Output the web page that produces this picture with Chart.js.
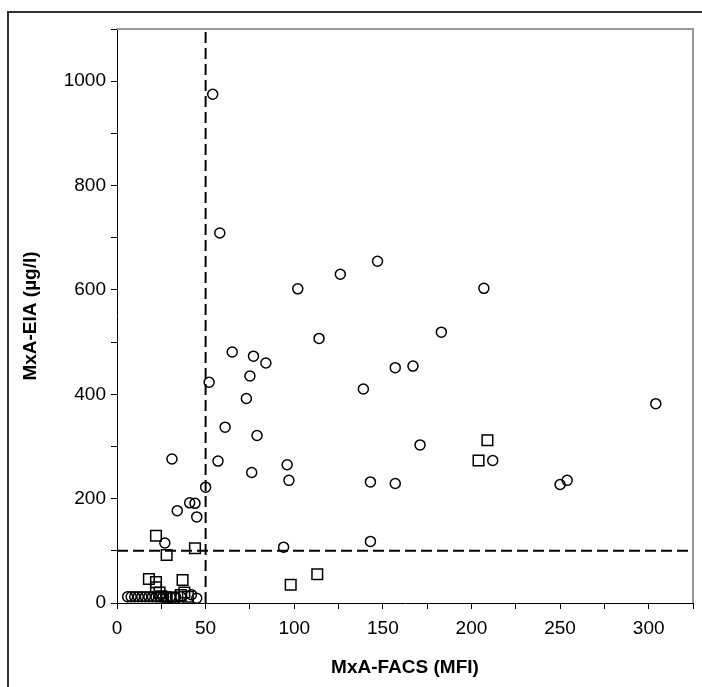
<!DOCTYPE html>
<html>
<head>
<meta charset="utf-8">
<script src="https://cdn.jsdelivr.net/npm/chart.js@4/dist/chart.umd.min.js"></script>
<style>
html,body{margin:0;padding:0;background:#fff;}
#wrap{width:702px;height:687px;position:relative;}
</style>
</head>
<body>
<div id="wrap"><canvas id="c" width="702" height="687"></canvas></div>
<script>
// ---- data ----
const circleX = [54,58,102,126,147,207,183,114,65,77,84,157,167,139,75,52,73,304,61,79,171,31,57,212,96,76,97,143,157,250,254,50,41,44,34,45,27,143,94,
  6,8,10,12,14,16,18,20,22,24,26,28,30,33,36,42,45];
const circleY = [975,709,602,630,655,603,519,507,481,473,460,451,454,410,435,423,392,382,337,321,303,276,272,273,265,250,235,232,229,227,235,222,192,191,177,165,115,118,107,
  12,12,12,12,12,12,12,12,12,12,12,12,12,12,12,16,9];
const squareX = [22,28,44,18,22,22,24,25,28,32,37,36,38,40,98,113,204,209];
const squareY = [129,92,105,46,40,30,20,13,10,10,44,15,20,12,35,55,273,312];
const cutoffX = 50;     // MxA-FACS cut-off (MFI)
const cutoffY = 100;    // MxA-EIA cut-off (µg/l)
const xRange = [0, 325];
const yRange = [0, 1100];
const xTitle = 'MxA-FACS (MFI)';
const yTitle = 'MxA-EIA (µg/l)';

const toPts = (xs, ys) => xs.map((x, i) => ({x, y: ys[i]}));

const framePlugin = {
  id: 'frames',
  afterDraw(chart) {
    const {ctx, chartArea: a} = chart;
    ctx.save();
    ctx.strokeStyle = '#333';
    ctx.lineWidth = 2;
    ctx.strokeRect(8, 12, 1000, 1000);
    ctx.strokeStyle = '#9a9a9a';
    ctx.lineWidth = 2;
    ctx.beginPath();
    ctx.moveTo(a.left, a.top);
    ctx.lineTo(a.right, a.top);
    ctx.lineTo(a.right, a.bottom);
    ctx.stroke();
    ctx.restore();
  }
};

const tickFont = {family: 'Liberation Sans, Arial, sans-serif', size: 19};
const titleFont = {family: 'Liberation Sans, Arial, sans-serif', size: 19, weight: 'bold'};

new Chart(document.getElementById('c'), {
  type: 'scatter',
  data: {
    datasets: [
      {
        label: 'circles',
        data: toPts(circleX, circleY),
        pointStyle: 'circle',
        pointRadius: 5,
        borderColor: '#000',
        backgroundColor: 'rgba(0,0,0,0)',
        borderWidth: 1.5
      },
      {
        label: 'squares',
        data: toPts(squareX, squareY),
        pointStyle: 'rect',
        pointRadius: 7.5,
        borderColor: '#000',
        backgroundColor: 'rgba(0,0,0,0)',
        borderWidth: 1.5
      },
      {
        label: 'vcut',
        type: 'line',
        data: [{x: cutoffX, y: yRange[0]}, {x: cutoffX, y: yRange[1]}],
        borderColor: '#000',
        borderWidth: 2,
        borderDash: [11, 5],
        pointRadius: 0,
        fill: false
      },
      {
        label: 'hcut',
        type: 'line',
        data: [{x: xRange[0], y: cutoffY}, {x: xRange[1], y: cutoffY}],
        borderColor: '#000',
        borderWidth: 2,
        borderDash: [11, 5],
        pointRadius: 0,
        fill: false
      }
    ]
  },
  options: {
    responsive: false,
    animation: false,
    devicePixelRatio: 1,
    layout: {padding: {left: 0, top: 29, right: 8, bottom: 0}},
    plugins: {legend: {display: false}, tooltip: {enabled: false}},
    scales: {
      x: {
        type: 'linear',
        min: xRange[0], max: xRange[1],
        afterFit(s) { s.height = 84; },
        ticks: {
          stepSize: 25, autoSkip: false, maxRotation: 0, padding: 8,
          color: '#000', font: tickFont,
          callback: v => (v % 50 === 0 ? String(v) : '')
        },
        grid: {drawOnChartArea: false, drawTicks: true, tickLength: 6, color: '#000', lineWidth: 1},
        border: {display: true, color: '#000', width: 1},
        title: {display: true, text: xTitle, color: '#000', font: titleFont, padding: {top: 0, bottom: 8}}
      },
      y: {
        type: 'linear',
        min: yRange[0], max: yRange[1],
        afterFit(s) { s.width = 117; },
        ticks: {
          stepSize: 100, autoSkip: false, padding: 5,
          color: '#000', font: tickFont,
          callback: v => (v % 200 === 0 ? String(v) : '')
        },
        grid: {drawOnChartArea: false, drawTicks: true, tickLength: 6, color: '#000', lineWidth: 1},
        border: {display: true, color: '#000', width: 1},
        title: {display: true, text: yTitle, color: '#000', font: titleFont, padding: {top: 19, bottom: 0}}
      }
    }
  },
  plugins: [framePlugin]
});
</script>
</body>
</html>
